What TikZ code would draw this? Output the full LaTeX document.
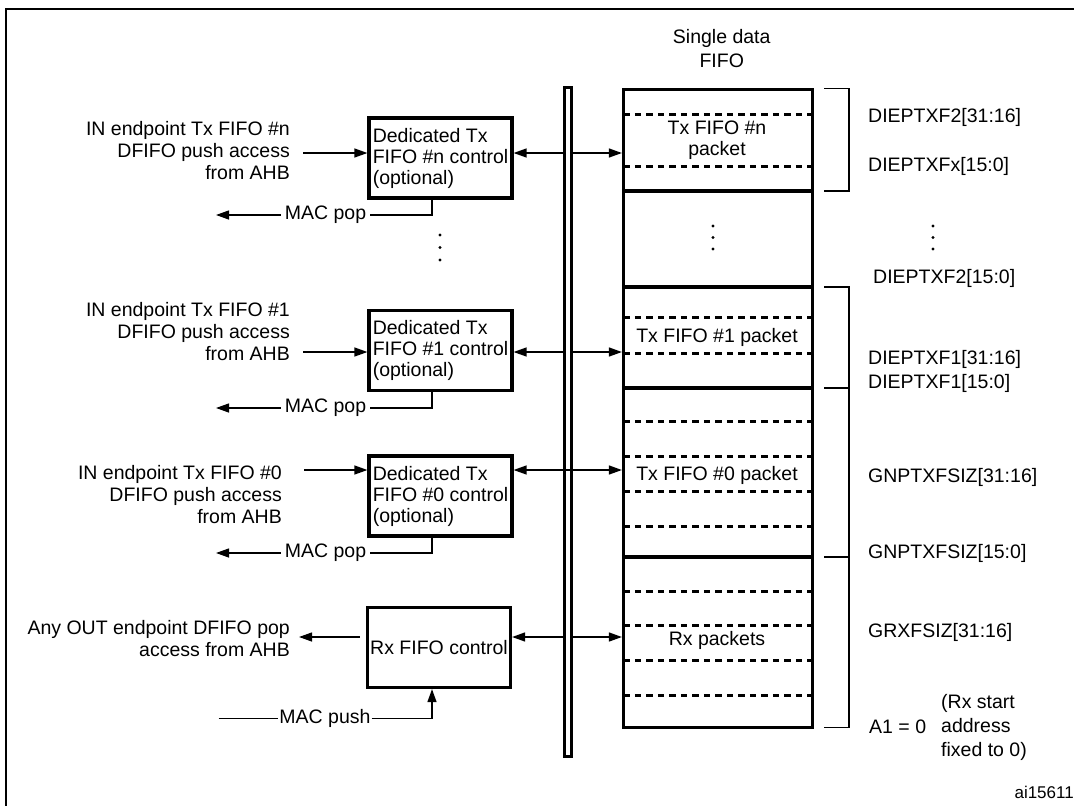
\documentclass[tikz,border=0pt]{standalone}
\usepackage{fontspec}
\setmainfont{Liberation Sans}
\usetikzlibrary{arrows.meta,calc}
\begin{document}
\begin{tikzpicture}[x=1pt,y=-1pt,
  every node/.style={font=\fontsize{19.5}{21}\selectfont, inner sep=0pt},
  thinln/.style={line width=1.3pt},
  arr/.style={line width=1.3pt,-{Triangle[length=13pt,width=9pt]}},
  arrb/.style={line width=1.3pt,{Triangle[length=13pt,width=9pt]}-{Triangle[length=13pt,width=9pt]}},
  ctrl/.style={draw,line width=3.2pt,minimum width=143pt,minimum height=80pt,inner sep=2pt,align=left},
  lbl/.style={anchor=east,align=right,font=\fontsize{19.5}{22}\selectfont},
  rlbl/.style={anchor=west},
  macl/.style={inner sep=4pt},
  sep/.style={line width=3.2pt},
  dsep/.style={line width=3pt,dash pattern=on 6.5pt off 5pt},
  dotm/.style={fill=black}
]
\useasboundingbox (0,0) rectangle (1074,806);
% outer frame
\draw[line width=2.5pt] (6,830) -- (6,9) -- (1090,9);

% FIFO and bus
\node[draw,line width=3.2pt,minimum width=189pt,minimum height=638pt] (fifo) at (718,408.5) {};
\node[draw,line width=3pt,fill=white,minimum width=7pt,minimum height=669pt] (bus) at (568,422) {};
\node[align=center,font=\fontsize{19.5}{24}\selectfont] (title) at (721.7,48.8) {Single data\\FIFO};

\foreach \y in {191,287,388,557}
  \draw[sep] (fifo.west |- 0,\y) -- (fifo.east |- 0,\y);
\foreach \y in {114,166,317,353,421,456,491.5,526,591,625,660,695}
  \draw[dsep] ([xshift=1.5pt]fifo.west |- 0,\y) -- ([xshift=-3pt]fifo.east |- 0,\y);

\node (pn) at (717,140.5) [align=center] {Tx FIFO \#n\\packet};
\node (p1) at (717,337) {Tx FIFO \#1 packet};
\node (p0) at (717,475) {Tx FIFO \#0 packet};
\node (prx) at (717,640) {Rx packets};
\foreach \y in {226,237.5,249} \fill[dotm] (713,\y) circle (1.7pt);

% brackets
\draw[thinln] ([xshift=10pt]fifo.east |- 0,88.5) -- ([xshift=35pt]fifo.east |- 0,88.5)
  -- ([xshift=35pt]fifo.east |- 0,191) -- ([xshift=10pt]fifo.east |- 0,191);
\draw[thinln] ([xshift=10pt]fifo.east |- 0,287) -- ([xshift=35pt]fifo.east |- 0,287)
  -- ([xshift=35pt]fifo.east |- 0,727.5) -- ([xshift=10pt]fifo.east |- 0,727.5);
\draw[thinln] ([xshift=10pt]fifo.east |- 0,388) -- ([xshift=35pt]fifo.east |- 0,388);
\draw[thinln] ([xshift=10pt]fifo.east |- 0,557) -- ([xshift=35pt]fifo.east |- 0,557);

% right labels
\node[rlbl] (r1) at (868,117) {DIEPTXF2[31:16]};
\node[rlbl] (r2) at (868,166) {DIEPTXFx[15:0]};
\foreach \y in {226,237.5,249} \fill[dotm] (933,\y) circle (1.7pt);
\node[rlbl] (r3) at (873,278) {DIEPTXF2[15:0]};
\node[rlbl] (r4) at (868,359.5) {DIEPTXF1[31:16]};
\node[rlbl] (r5) at (868,383) {DIEPTXF1[15:0]};
\node[rlbl] (r6) at (868,477) {GNPTXFSIZ[31:16]};
\node[rlbl] (r7) at (868,553.6) {GNPTXFSIZ[15:0]};
\node[rlbl] (r8) at (868,632) {GRXFSIZ[31:16]};
\node[rlbl] (r9) at (869,727) {A1 = 0};
\node[rlbl,align=left,font=\fontsize{19.5}{24}\selectfont] (r10) at (941,727) {(Rx start\\address\\fixed to 0)};
\node[anchor=east,font=\fontsize{17}{19}\selectfont] (ai) at (1074,792) {ai15611};

% control boxes
\node[ctrl] (bn) at (440.5,158) {Dedicated Tx\\FIFO \#n control\\(optional)};
\node[ctrl] (b1) at (440.5,350.5) {Dedicated Tx\\FIFO \#1 control\\(optional)};
\node[ctrl] (b0) at (440.5,496) {Dedicated Tx\\FIFO \#0 control\\(optional)};
\node[ctrl] (brx) at (439,647.5) {Rx FIFO control};

% left labels
\node[lbl] (ln) at (290,151) {IN endpoint Tx FIFO \#n\\DFIFO push access\\from AHB};
\node[lbl] (l1) at (290,331.5) {IN endpoint Tx FIFO \#1\\DFIFO push access\\from AHB};
\node[lbl] (l0) at (282,495) {IN endpoint Tx FIFO \#0\\DFIFO push access\\from AHB};
\node[lbl] (lrx) at (290,639) {Any OUT endpoint DFIFO pop\\access from AHB};

% input arrows
\draw[arr] ([xshift=13pt]ln.east |- 0,153) -- (bn.west |- 0,153);
\draw[arr] ([xshift=13pt]l1.east |- 0,352) -- (b1.west |- 0,352);
\draw[arr] ([xshift=22pt]l0.east |- 0,470) -- (b0.west |- 0,470);
\draw[arr] ([xshift=-6pt]brx.west |- 0,637) -- ([xshift=9pt]lrx.east |- 0,637);

% box <-> bus <-> fifo
\draw[arr] (bus.west |- 0,153) -- (bn.east |- 0,153);
\draw[arr] (bus.east |- 0,153) -- (fifo.west |- 0,153);
\draw[arr] (bus.west |- 0,352) -- (b1.east |- 0,352);
\draw[arr] (bus.east |- 0,352) -- (fifo.west |- 0,352);
\draw[arrb] (b0.east |- 0,470) -- (fifo.west |- 0,470);
\draw[arr] (bus.west |- 0,637) -- (brx.east |- 0,637);
\draw[arr] (bus.east |- 0,637) -- (fifo.west |- 0,637);

% MAC pop
\node[macl] (mpn) at (325.5,215) {MAC pop};
\node[macl] (mp1) at (325.5,408) {MAC pop};
\node[macl] (mp0) at (325.5,553) {MAC pop};
\coordinate (on) at (216,215);
\coordinate (o1) at (216,408);
\coordinate (o0) at (216,553);
\draw[thinln] (bn.south -| 432,0) -- (432,215) -- (mpn.east);
\draw[arr] (mpn.west) -- (on);
\draw[thinln] (b1.south -| 432,0) -- (432,408) -- (mp1.east);
\draw[arr] (mp1.west) -- (o1);
\draw[thinln] (b0.south -| 432,0) -- (432,553) -- (mp0.east);
\draw[arr] (mp0.west) -- (o0);
\foreach \y in {235,247.5,260} \fill[dotm] (440,\y) circle (1.7pt);

% MAC push
\node[inner sep=1pt] (mpu) at (325,718.6) {MAC push};
\coordinate (pin) at (218.6,718.6);
\draw[thinln] (pin) -- (mpu.west);
\draw[arr] (mpu.east) -- (432,718.6) -- (brx.south -| 432,0);
\end{tikzpicture}
\end{document}
